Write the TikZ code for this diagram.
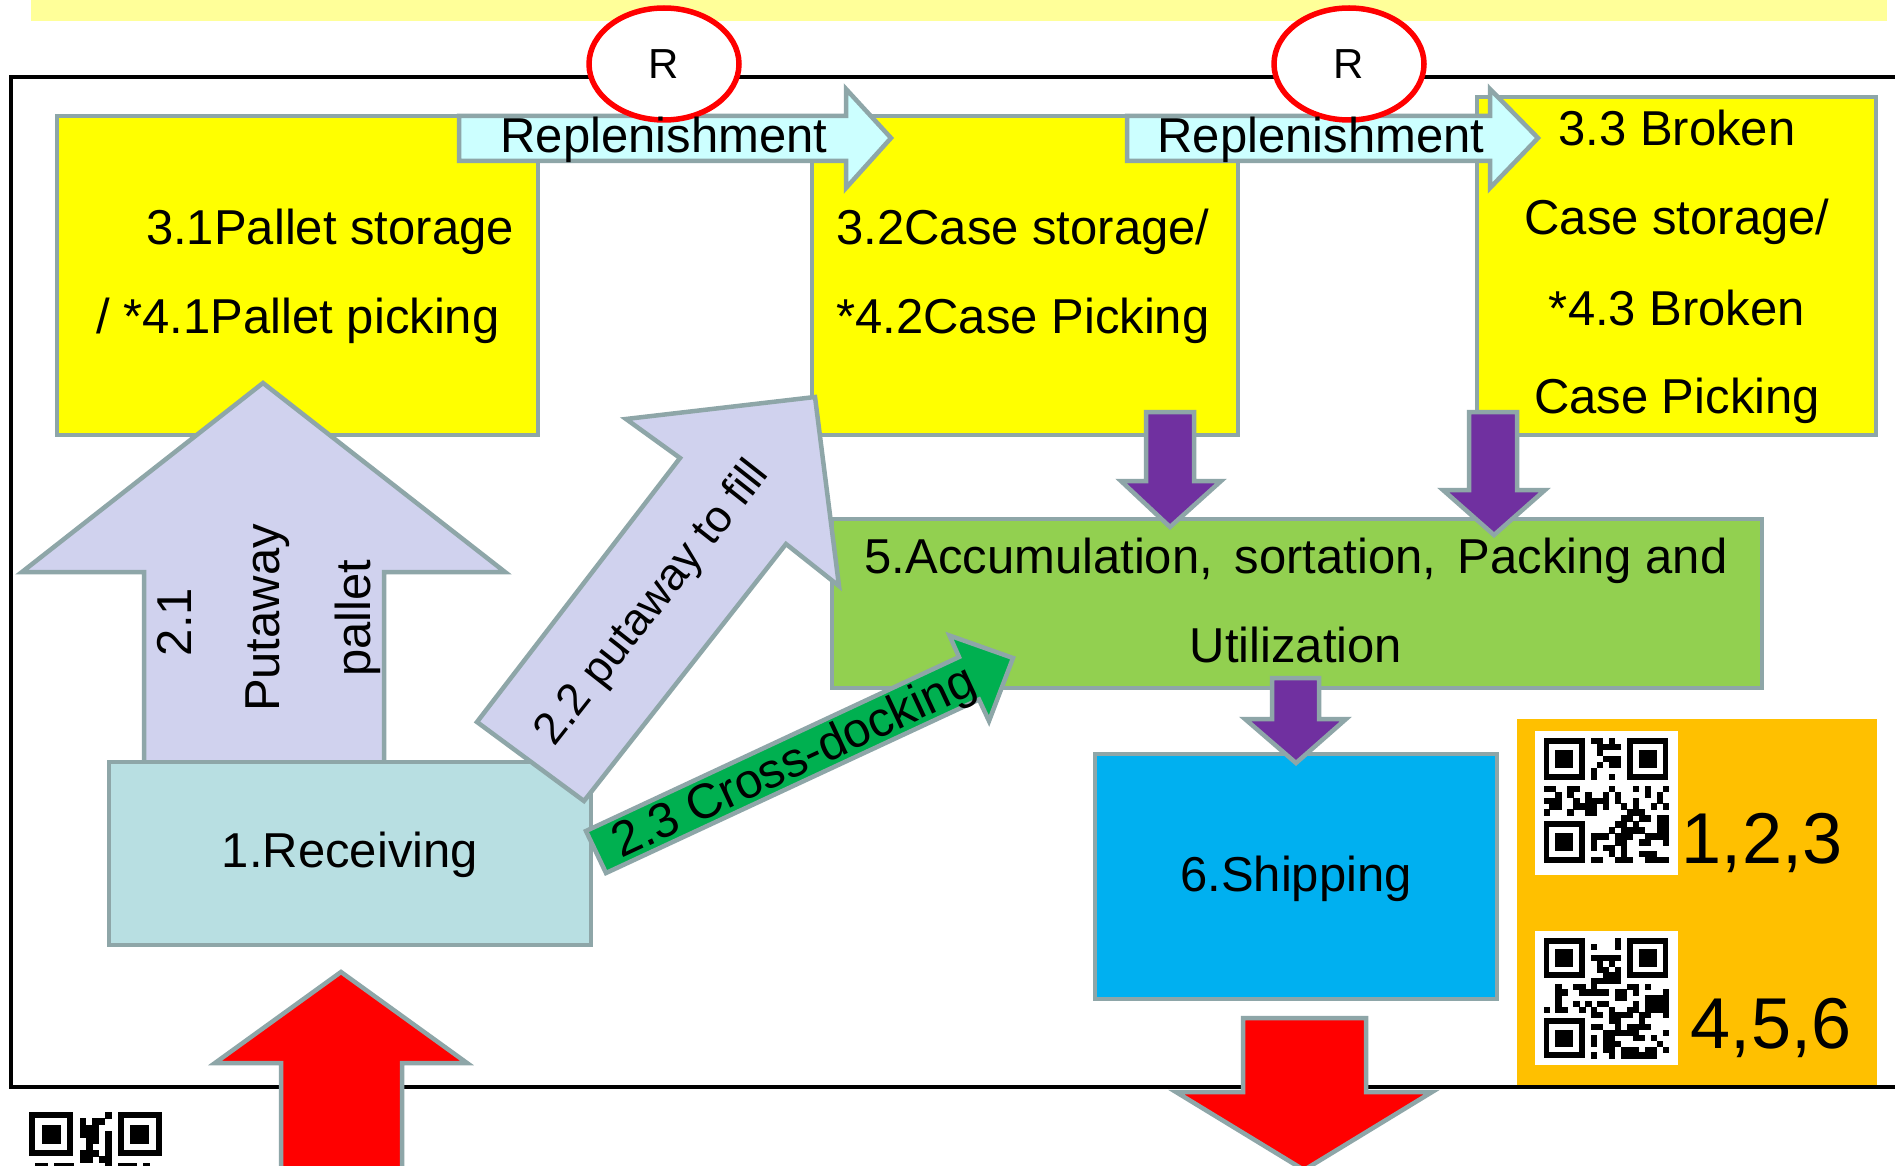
\documentclass[tikz,border=0pt]{standalone}
\usepackage{fontspec}
\setmainfont{Liberation Sans}
\usetikzlibrary{shapes.geometric}
\definecolor{bordc}{RGB}{142,166,168}
\definecolor{boxyel}{RGB}{255,255,0}
\definecolor{bandyel}{RGB}{255,255,153}
\definecolor{replc}{RGB}{204,255,255}
\definecolor{lavc}{RGB}{208,210,238}
\definecolor{recc}{RGB}{184,223,226}
\definecolor{accc}{RGB}{146,208,80}
\definecolor{xdockc}{RGB}{0,176,80}
\definecolor{purc}{RGB}{112,48,160}
\definecolor{shipc}{RGB}{0,176,240}
\definecolor{qrpanel}{RGB}{255,192,0}
\newcommand\fbig{\fontsize{49}{59}\selectfont}
\newcommand\qrdraw[5]{%
 \begin{scope}[shift={(#1,#2)}]
 \foreach \qi in {0,...,20}{\foreach \qj in {0,...,20}{%
   \pgfmathtruncatemacro\qinf{((\qi<8)&&(\qj<8))||((\qi>12)&&(\qj<8))||((\qi<8)&&(\qj>12))}%
   \pgfmathtruncatemacro\qon{mod(floor(abs(sin(\qi*12.9898+\qj*78.233+#5*37.719)*9973)),2)}%
   \ifnum\qinf=0 \ifnum\qon=1 \fill (\qi*#3,\qj*#4) rectangle ++(#3+0.4,#4+0.4);\fi\fi
 }}
 \foreach \qa/\qb in {0/0,14/0,0/14}{
  \fill (\qa*#3,\qb*#4) rectangle ++(7*#3,7*#4);
  \fill[white] (\qa*#3+#3,\qb*#4+#4) rectangle ++(5*#3,5*#4);
  \fill (\qa*#3+2*#3,\qb*#4+2*#4) rectangle ++(3*#3,3*#4);
 }
 \end{scope}}
\tikzset{
 procbox/.style={draw=bordc, line width=4.5pt, rectangle, inner sep=0pt},
 blockarrow/.style={draw=bordc, line width=4.5pt, line join=miter},
 lbl/.style={font=\fbig, inner sep=0pt, anchor=base},
 rcirc/.style={ellipse, draw=red, fill=white, line width=5.5pt, minimum width=150pt, minimum height=112pt, inner sep=0pt, font=\fontsize{42}{50}\selectfont},
}
\begin{document}
\begin{tikzpicture}[x=1pt,y=-1pt]
\useasboundingbox (0,0) rectangle (1895,1166);
\fill[white] (0,0) rectangle (1895,1166);
% top band
\fill[bandyel] (31,0) rectangle (1887,21);
% frame
\draw[line width=4pt] (1900,77) -- (11,77) -- (11,1087) -- (1900,1087);
% storage boxes
\node[procbox, fill=boxyel, minimum width=481pt, minimum height=319pt] (b31) at (297.5,275.5) {};
\node[procbox, fill=boxyel, minimum width=426pt, minimum height=319pt] (b32) at (1025,275.5) {};
\node[procbox, fill=boxyel, minimum width=399pt, minimum height=338pt] (b33) at (1676.5,266) {};
% replenishment arrows
\filldraw[blockarrow, fill=replc] (459,116) -- (846,116) -- (846,89) -- (891,138) -- (846,188) -- (846,161) -- (459,161) -- cycle;
\filldraw[blockarrow, fill=replc] (1127,116) -- (1490,116) -- (1490,89) -- (1538,138) -- (1490,188) -- (1490,161) -- (1127,161) -- cycle;
% R circles
\node[rcirc] (r1) at (664,64) {R};
\node[rcirc] (r2) at (1349,64) {R};
\node[lbl] (rep1) at (664,153) {Replenishment};
\node[lbl] (rep2) at (1321,153) {Replenishment};
% box 5
\node[procbox, fill=accc, minimum width=930pt, minimum height=169pt] (b5) at (1297,603.5) {};
% purple arrows
\filldraw[blockarrow, fill=purc] (1146,412) -- (1194,412) -- (1194,481) -- (1221,481) -- (1170,527) -- (1121,481) -- (1146,481) -- cycle;
\filldraw[blockarrow, fill=purc] (1469,412) -- (1517,412) -- (1517,490) -- (1545,490) -- (1494,535) -- (1443,490) -- (1469,490) -- cycle;
% arrow 2.1
\filldraw[blockarrow, fill=lavc] (263,383) -- (505,572) -- (384,572) -- (384,770) -- (144,770) -- (144,572) -- (22,572) -- cycle;
% receiving
\node[procbox, fill=recc, minimum width=482pt, minimum height=183pt] (b1) at (350,853.5) {};
% shipping
\node[procbox, fill=shipc, minimum width=402pt, minimum height=245pt] (b6) at (1296,876.5) {};
\filldraw[blockarrow, fill=purc] (1272,678) -- (1319,678) -- (1319,719) -- (1346,719) -- (1296,763) -- (1245,719) -- (1272,719) -- cycle;
% arrow 2.2
\filldraw[blockarrow, fill=lavc] (477,722) -- (680,458) -- (626,419) -- (815,397) -- (839,586) -- (786,544) -- (584,801) -- cycle;
% arrow 2.3
\filldraw[blockarrow, fill=xdockc] (586,831) -- (959,657) -- (949.5,635.5) -- (1013,658) -- (989,721) -- (979,699.5) -- (606,873) -- cycle;
% red arrows
\filldraw[blockarrow, fill=red] (341,972) -- (467,1063) -- (402,1063) -- (402,1180) -- (281,1180) -- (281,1063) -- (215,1063) -- cycle;
\filldraw[blockarrow, fill=red] (1243,1018) -- (1366,1018) -- (1366,1092) -- (1432,1092) -- (1304,1170) -- (1176,1092) -- (1243,1092) -- cycle;
% QR panel
\node[fill=qrpanel, minimum width=360pt, minimum height=366pt, inner sep=0pt] (qp) at (1697,902) {};
\node[fill=white, minimum width=143pt, minimum height=144pt, inner sep=0pt] (qw1) at (1606.5,803) {};
\node[fill=white, minimum width=143pt, minimum height=134pt, inner sep=0pt] (qw2) at (1606.5,998) {};
\qrdraw{1543.5}{738}{5.95}{5.95}{1}
\qrdraw{1543.5}{938}{5.95}{5.72}{3}
\node[fill=white, minimum width=150pt, minimum height=70pt, inner sep=0pt] (qw3) at (95,1140) {};
\qrdraw{29}{1112}{6.33}{6.33}{5}
\node[lbl, font=\fontsize{72}{80}\selectfont] (n123) at (1762,863) {1,2,3};
\node[lbl, font=\fontsize{72}{80}\selectfont] (n456) at (1771,1048) {4,5,6};
% texts
\node[lbl] (t31a) at (330,245) {3.1Pallet storage};
\node[lbl] (t31b) at (298,333) {/ *4.1Pallet picking};
\node[lbl] (t32a) at (1023,245) {3.2Case storage/};
\node[lbl] (t32b) at (1023,333) {*4.2Case Picking};
\node[lbl] (t33a) at (1677,146) {3.3 Broken};
\node[lbl] (t33b) at (1677,235) {Case storage/};
\node[lbl] (t33c) at (1677,325) {*4.3 Broken};
\node[lbl] (t33d) at (1677,413) {Case Picking};
\node[lbl] (t5a) at (1296,573) {5.Accumulation,\hspace{8pt} sortation,\hspace{8pt} Packing and};
\node[lbl] (t5b) at (1296,662) {Utilization};
\node[lbl] (t6) at (1296,891) {6.Shipping};
\node[lbl] (t1) at (350,867) {1.Receiving};
\node[lbl, rotate=90] (t21a) at (191,622) {2.1};
\node[lbl, rotate=90] (t21b) at (279,618) {Putaway};
\node[lbl, rotate=90] (t21c) at (370,618) {pallet};
\node[font=\fontsize{45}{54}\selectfont, inner sep=0pt, rotate=51.8] (t22) at (653,604) {2.2 putaway to fill};
\node[font=\fbig, inner sep=0pt, rotate=25] (t23) at (795,764) {2.3 Cross-docking};
\end{tikzpicture}
\end{document}
